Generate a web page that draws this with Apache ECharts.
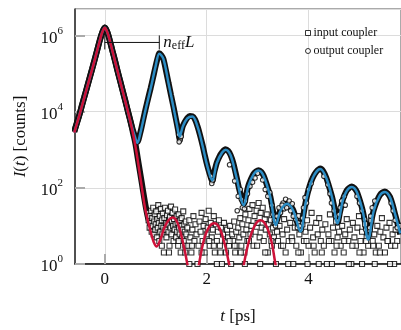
<!DOCTYPE html>
<html><head><meta charset="utf-8">
<script src="https://cdn.jsdelivr.net/npm/echarts@6/dist/echarts.min.js"></script>
<style>html,body{margin:0;padding:0;background:#fff}#c{width:401px;height:330px}</style>
</head><body><div id="c"></div>
<script>
// ---- tick values ----
const xTicks = [0, 2, 4];
const yTickExps = [0, 2, 4, 6];

// ---- fit curves: [t (ps), counts] ----
const fitInput = [
 [-0.6,2800],[-0.5,7900],[-0.4,24000],[-0.3,72000],[-0.2,2.2e5],[-0.1,7.1e5],[-0.05,1.2e6],[0,1.58e6],
 [0.05,1.2e6],[0.1,7.1e5],[0.2,2.1e5],[0.3,63000],[0.4,19000],[0.5,5600],[0.6,1260],[0.7,178],[0.8,25],
 [0.9,7.1],[0.96,3.8],[1.02,2.9],[1.08,4.0],[1.17,8.9],[1.25,14],[1.33,16.6],[1.42,12.6],[1.52,4.5],
 [1.62,1],[1.73,0.1],[1.85,1],[1.95,4.5],[2.05,9.5],[2.15,11.7],[2.25,8.9],[2.35,3.5],[2.44,1],[2.58,0.1],
 [2.73,1],[2.83,4],[2.95,10.5],[3.06,14],[3.17,10],[3.27,4],[3.35,1],[3.5,0.1]
];
const fitOutput = [
 [-0.6,2800],[-0.5,7900],[-0.4,24000],[-0.3,72000],[-0.2,2.2e5],[-0.1,7.1e5],[-0.05,1.2e6],[0,1.58e6],
 [0.05,1.2e6],[0.1,7.1e5],[0.2,2.1e5],[0.3,63000],[0.4,19000],[0.5,5600],[0.6,2000],[0.64,1500],[0.7,2800],
 [0.8,11200],[0.9,40000],[1.0,1.58e5],[1.07,3.3e5],[1.15,2.4e5],[1.25,56000],[1.35,12600],[1.42,4200],
 [1.47,2200],[1.53,4000],[1.62,6600],[1.72,7400],[1.82,4000],[1.92,1260],[2.01,380],[2.11,155],[2.2,450],
 [2.3,830],[2.37,1000],[2.47,710],[2.58,200],[2.73,35],[2.82,112],[2.92,224],[3.02,282],[3.12,200],
 [3.25,56],[3.36,10.5],[3.45,25],[3.58,38],[3.7,25],[3.84,7.1],[3.95,45],[4.08,178],[4.23,309],[4.35,178],
 [4.47,50],[4.57,11.7],[4.67,45],[4.75,83],[4.85,105],[4.95,76],[5.07,22],[5.17,4.4],[5.28,25],[5.4,63],
 [5.5,78],[5.6,56],[5.7,20],[5.8,6.3]
];

// ---- measured data: output coupler (dense trace) ----
const outputData = [
 [-0.6,3000],[-0.55,5000],[-0.5,8200],[-0.45,14000],[-0.4,25000],[-0.35,42000],[-0.3,75000],[-0.25,1.3e5],
 [-0.2,2.3e5],[-0.15,4.0e5],[-0.1,7.3e5],[-0.05,1.2e6],[0,1.6e6],[0.05,1.22e6],[0.1,7.0e5],[0.15,3.9e5],
 [0.2,2.15e5],[0.25,1.15e5],[0.3,65000],[0.35,35000],[0.4,19500],[0.45,10500],[0.5,5800],[0.55,3300],
 [0.6,2100],[0.64,1600],[0.7,2900],[0.75,5800],[0.8,11500],[0.85,22000],[0.9,41000],[0.95,80000],
 [1.0,1.6e5],[1.04,2.6e5],[1.07,3.4e5],[1.11,3.0e5],[1.15,2.4e5],[1.2,1.2e5],[1.25,57000],[1.3,27000],
 [1.35,13000],[1.4,6000],[1.44,3200],[1.47,1900],[1.5,2800],[1.53,4100],[1.58,5600],[1.62,6800],
 [1.67,7600],[1.72,7500],[1.77,6200],[1.82,4100],[1.87,2400],[1.92,1300],[1.97,650],[2.01,390],
 [2.06,230],[2.11,150],[2.15,260],[2.2,460],[2.25,660],[2.3,840],[2.37,1020],[2.42,930],[2.47,720],
 [2.52,460],[2.58,210],[2.65,80],[2.73,38],[2.78,70],[2.82,115],[2.87,170],[2.92,230],[2.97,270],
 [3.02,290],[3.07,265],[3.12,205],[3.18,120],[3.25,58],[3.3,25],[3.36,12],[3.4,17],[3.45,26],[3.52,34],
 [3.58,40],[3.64,34],[3.7,26],[3.77,13],[3.84,8],[3.9,20],[3.95,47],[4.02,110],[4.08,180],[4.15,260],
 [4.23,320],[4.29,270],[4.35,180],[4.41,100],[4.47,52],[4.52,25],[4.57,12],[4.62,24],[4.67,47],[4.71,66],
 [4.75,85],[4.8,100],[4.85,108],[4.9,98],[4.95,78],[5.01,45],[5.07,23],[5.12,10],[5.17,5],[5.22,11],
 [5.28,26],[5.34,44],[5.4,64],[5.45,75],[5.5,80],[5.55,72],[5.6,57],[5.65,36],[5.7,20],[5.75,11],[5.8,6]
];
// ---- measured data: output coupler, scattered points ----
const outputScatter = [
 [1.45,2500],[1.48,1800],[1.5,2200],[1.46,1600],[2.08,200],[2.1,130],[2.12,160],
 [2.45,400],[2.55,150],[2.6,25],[2.62,60],[2.66,90],[2.7,30],[2.76,45],[2.8,70],[2.85,110],[2.9,140],
 [3.1,160],[3.15,90],[3.2,60],[3.28,35],[3.3,20],[3.33,14],[3.38,18],[3.42,30],[3.45,22],[3.5,40],
 [3.52,28],[3.55,50],[3.6,32],[3.62,45],[3.65,25],[3.68,38],[3.72,20],[3.75,15],[3.78,9],[3.8,12],
 [3.86,8],[3.88,16],[3.9,30],[3.93,55],[3.96,40],[4.0,90],[4.05,130],[4.3,200],[4.38,120],[4.42,70],
 [4.45,40],[4.5,25],[4.53,18],[4.6,20],[4.62,30],[4.65,45],[4.7,60],[4.72,35],[4.95,60],[5.0,40],
 [5.05,25],[5.1,15],[5.12,8],[5.2,9],[5.22,18],[5.25,30],[5.3,45],[5.62,40],[5.66,25],[5.7,14],[5.74,9],
 [2.68,50],[2.74,28],[2.95,180],[3.0,240],[3.24,75],[3.35,10],[3.48,35],[3.57,30],[3.7,18],[3.82,10]
];

// ---- measured data: input coupler (trace on the main peak) ----
const inputData = [
 [-0.6,2900],[-0.55,4900],[-0.5,8000],[-0.45,14500],[-0.4,24500],[-0.35,43000],[-0.3,74000],[-0.25,1.28e5],
 [-0.2,2.25e5],[-0.15,4.1e5],[-0.1,7.2e5],[-0.05,1.18e6],[0,1.6e6],[0.05,1.2e6],[0.1,7.2e5],[0.15,3.95e5],
 [0.2,2.2e5],[0.25,1.18e5],[0.3,64000],[0.35,36000],[0.4,20000],[0.45,10800],[0.5,5900],[0.55,2900],
 [0.6,1450],[0.65,560],[0.7,220],[0.75,85],[0.8,34],[0.85,16],[0.9,10]
];
// ---- measured data: input coupler, noise floor (counts) ----
const inputNoise = [
 [0.86,14],[0.87,22],[0.88,9],[0.89,18],[0.9,12],[0.91,25],[0.92,7],[0.93,16],[0.94,10],[0.95,30],[0.96,6],
 [0.97,13],[0.98,20],[0.99,8],[1.0,11],[1.01,24],[1.02,5],[1.03,15],[1.04,9],[1.05,35],[1.06,12],[1.07,4],
 [1.08,18],[1.09,7],[1.1,28],[1.11,10],[1.12,14],[1.13,6],[1.14,21],[1.15,9],[1.16,2],[1.17,16],[1.18,30],
 [1.19,8],[1.2,12],[1.21,5],[1.22,19],[1.23,11],[1.24,25],[1.25,7],[1.26,14],[1.27,3],[1.28,17],[1.29,9],
 [1.3,32],[1.31,6],[1.32,13],[1.33,22],[1.34,10],[1.35,4],[1.36,15],[1.37,8],[1.38,27],[1.39,11],[1.4,5],
 [1.41,18],[1.42,7],[1.43,12],[1.44,3],[1.45,20],[1.46,9],[1.47,6],[1.48,14],[1.49,2],[1.5,10],[1.51,16],
 [1.52,5],[1.53,8],[1.54,24],[1.55,4],[1.56,11],[1.57,7],[1.58,3],[1.59,13],[1.6,6],
 [1.62,9],[1.64,3],[1.66,14],[1.68,5],[1.7,2],[1.72,8],[1.74,18],[1.76,4],[1.78,11],[1.8,6],[1.82,1],
 [1.84,3],[1.86,13],[1.88,7],[1.9,22],[1.92,4],[1.94,10],[1.96,2],[1.98,15],[2.0,6],[2.02,9],[2.04,25],
 [2.06,3],[2.08,12],[2.1,5],[2.12,8],[2.14,18],[2.16,2],[2.18,11],[2.2,4],[2.22,7],[2.24,14],[2.26,3],
 [2.28,9],[2.3,1],[2.32,6],[2.34,12],[2.36,4],[2.38,2],[2.4,8],[2.42,5],[2.44,3],[2.46,10],[2.48,1],
 [2.5,6],[2.52,4],[2.54,13],[2.56,2],[2.58,7],[2.6,3],
 [2.62,9],[2.64,5],[2.66,16],[2.68,3],[2.7,11],[2.72,6],[2.74,2],[2.76,20],[2.78,8],[2.8,4],[2.82,14],
 [2.84,28],[2.86,6],[2.88,10],[2.9,35],[2.92,3],[2.94,18],[2.96,7],[2.98,25],[3.0,12],[3.02,40],[3.04,5],
 [3.06,22],[3.08,9],[3.1,30],[3.12,4],[3.14,15],[3.16,8],[3.18,20],[3.2,2],[3.22,11],[3.24,6],[3.26,14],
 [3.28,3],[3.3,9],[3.32,5],[3.34,12],[3.36,1],[3.38,7],[3.4,4],
 [3.43,10],[3.46,3],[3.49,6],[3.52,15],[3.55,2],[3.58,8],[3.61,4],[3.64,12],[3.67,5],[3.7,1],[3.73,9],
 [3.76,3],[3.79,18],[3.82,6],[3.85,2],[3.88,11],[3.91,4],[3.94,7],[3.97,14],[4.0,3],[4.03,9],[4.06,22],
 [4.09,5],[4.12,2],[4.15,12],[4.18,6],[4.21,16],[4.24,4],[4.27,8],[4.3,3],[4.33,11],[4.36,1],[4.39,6],
 [4.42,20],[4.45,4],[4.48,9],[4.51,2],[4.54,13],[4.57,5],[4.6,7],[4.63,3],[4.66,10],[4.69,2],[4.72,6],
 [4.75,15],[4.78,4],[4.81,8],[4.84,1],[4.87,12],[4.9,5],[4.93,3],[4.96,9],[4.99,18],[5.02,4],[5.05,7],
 [5.08,2],[5.11,11],[5.14,5],[5.17,3],[5.2,8],[5.23,14],[5.26,4],[5.29,6],[5.32,2],[5.35,10],[5.38,3],
 [5.41,7],[5.44,16],[5.47,5],[5.5,2],[5.53,9],[5.56,4],[5.59,12],[5.62,3],[5.65,6],[5.68,1],[5.71,8],
 [5.74,4],[5.77,10],
 [1.12,3],[1.26,2],[1.45,4],[1.58,2],[1.71,3],[1.9,2],[2.05,4],[2.14,3],[2.27,2],[2.45,4],[2.55,3],
 [2.67,2],[2.83,4],[2.99,3],[3.15,2],[3.27,4],[3.5,3],[3.68,4],[3.8,2],[3.96,4],[4.1,3],[4.26,2],[4.4,4],
 [4.55,3],[4.7,4],[4.86,3],[5.0,2],[5.13,4],[5.27,3],[5.4,2],[5.55,4],[5.7,3],[1.66,1],[2.2,1],[2.75,1],
 [3.05,1],[3.6,1],[3.98,1],[4.2,1],[4.46,1],[4.79,1],[5.05,1],[5.3,1],[5.6,1]
];

// ---- annotation: n_eff L bracket (data units) ----
const bracketT = [0, 1.07];
const bracketLevel = 6.5e5;

const SERIF = 'Liberation Serif';
const RED = '#cc1138';
const BLUE = '#2b8cc4';

const chart = echarts.init(document.getElementById('c'), null, {renderer: 'canvas'});

const option = {
  animation: false,
  backgroundColor: '#fff',
  grid: {left: 75, right: -2, top: 9, bottom: 62, show: true, borderColor: '#555', borderWidth: 1},
  legend: {
    orient: 'vertical', left: 300, top: 22, itemWidth: 5, itemHeight: 5, itemGap: 6,
    textStyle: {fontFamily: SERIF, fontSize: 12, color: '#111', padding: [0,0,0,-2]},
    data: [
      {name: 'input coupler', icon: 'rect', itemStyle: {color: '#fff', borderColor: '#000', borderWidth: 1}},
      {name: 'output coupler', icon: 'circle', itemStyle: {color: '#fff', borderColor: '#000', borderWidth: 1}}
    ]
  },
  xAxis: {
    type: 'value', min: -0.585, max: 5.815,
    name: '{i|t} [ps]', nameLocation: 'middle', nameGap: 44,
    nameTextStyle: {fontFamily: SERIF, fontSize: 17, color: '#111', rich: {i: {fontFamily: SERIF, fontStyle: 'italic', fontSize: 17}}},
    axisLine: {onZero: false, lineStyle: {color: '#111', width: 1.5}},
    axisTick: {show: true, inside: true, length: 10, customValues: xTicks, lineStyle: {color: '#aaa', width: 2}},
    axisLabel: {customValues: xTicks, fontFamily: SERIF, fontSize: 17, color: '#111', margin: 7},
    splitLine: {show: true, lineStyle: {color: '#dcdcdc', width: 1}}
  },
  yAxis: {
    type: 'log', logBase: 10, min: 1, max: 4.9e6, interval: 2,
    name: '{i|I}({i|t}) [counts]', nameLocation: 'middle', nameGap: 46,
    nameTextStyle: {fontFamily: SERIF, fontSize: 17, color: '#111', rich: {i: {fontFamily: SERIF, fontStyle: 'italic', fontSize: 17}}},
    axisLine: {show: true, onZero: false, lineStyle: {color: '#333', width: 1.5}},
    axisTick: {show: true, inside: true, length: 10, lineStyle: {color: '#aaa', width: 2}},
    axisLabel: {
      margin: 12, showMaxLabel: false,
      formatter: v => {
        const e = Math.log10(v), r = Math.round(e);
        if (Math.abs(e - r) > 1e-6 || yTickExps.indexOf(r) < 0) return '';
        return '{b|10}{s|' + r + '}';
      },
      rich: {
        b: {fontFamily: SERIF, fontSize: 17, color: '#111', padding: [6, 0, 0, 0]},
        s: {fontFamily: SERIF, fontSize: 11, color: '#111', padding: [0, 0, 9, 0]}
      }
    },
    splitLine: {show: true, lineStyle: {color: '#dcdcdc', width: 1}}
  },
  series: [
    {name: 'input coupler', type: 'scatter', data: inputNoise, symbol: 'rect', symbolSize: 5, z: 3,
     itemStyle: {color: '#fff', borderColor: '#000', borderWidth: 1.1}},
    {name: 'output coupler', type: 'scatter', data: outputScatter, symbol: 'circle', symbolSize: 4.5, z: 3,
     itemStyle: {color: '#fff', borderColor: '#000', borderWidth: 1.1}},
    {name: 'input coupler', type: 'line', data: inputData, smooth: 0.3, showSymbol: false, z: 2,
     lineStyle: {color: '#111', width: 6}},
    {name: 'output coupler', type: 'line', data: outputData, smooth: 0.3, showSymbol: false, z: 2,
     lineStyle: {color: '#111', width: 6}},
    {name: 'fit input', type: 'line', data: fitInput, smooth: 0.35, showSymbol: false, z: 5,
     lineStyle: {color: RED, width: 2.5}},
    {name: 'fit output', type: 'line', data: fitOutput, smooth: 0.35, showSymbol: false, z: 4,
     lineStyle: {color: BLUE, width: 2.5}}
  ]
};
chart.setOption(option);

// bracket annotation positioned from data values
const pL = chart.convertToPixel({gridIndex: 0}, [bracketT[0], bracketLevel]);
const pR = chart.convertToPixel({gridIndex: 0}, [bracketT[1], bracketLevel]);
const h = 7;
chart.setOption({
  graphic: [
    {type: 'line', z: 100, shape: {x1: pL[0], y1: pL[1], x2: pR[0], y2: pR[1]}, style: {stroke: '#111', lineWidth: 1}},
    {type: 'line', z: 100, shape: {x1: pL[0], y1: pL[1] - h, x2: pL[0], y2: pL[1] + h}, style: {stroke: '#111', lineWidth: 1}},
    {type: 'line', z: 100, shape: {x1: pR[0], y1: pR[1] - h, x2: pR[0], y2: pR[1] + h}, style: {stroke: '#111', lineWidth: 1}},
    {type: 'text', z: 100, x: pR[0] + 4, y: pR[1], style: {
      text: '{i|n}{s|eff}{i|L}', verticalAlign: 'middle', fill: '#111',
      rich: {
        i: {fontFamily: SERIF, fontStyle: 'italic', fontSize: 17, fill: '#111'},
        s: {fontFamily: SERIF, fontSize: 12, fill: '#111', padding: [6, 0, 0, 0]}
      }
    }}
  ]
});
</script>
</body></html>
